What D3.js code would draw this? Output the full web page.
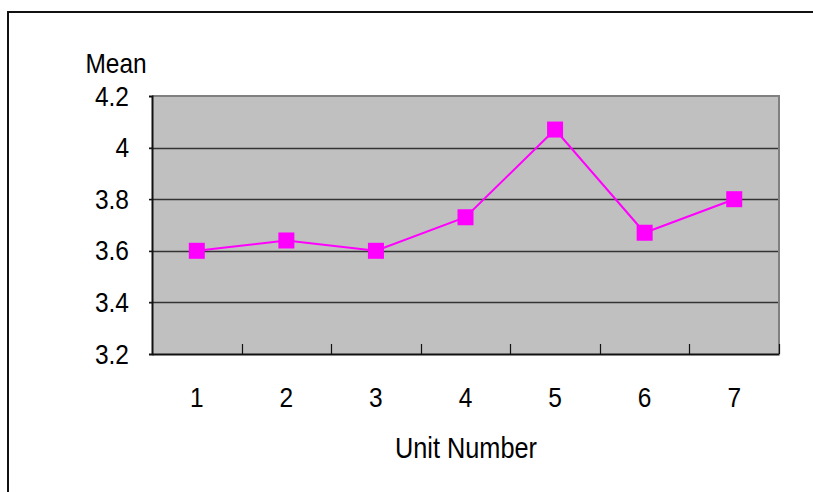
<!DOCTYPE html>
<html><head><meta charset="utf-8">
<script src="https://cdn.jsdelivr.net/npm/d3@7"></script>
<style>body{margin:0;background:#fff}svg{display:block}text{font-family:"Liberation Sans",Arial,sans-serif;fill:#000}</style>
</head><body><svg id="c" width="813" height="492"></svg>
<script>
const categories = ["1","2","3","4","5","6","7"];
const meanValues = [3.60, 3.64, 3.60, 3.73, 4.07, 3.67, 3.80];
const yTicks = [3.2, 3.4, 3.6, 3.8, 4.0, 4.2];
const yTickLabels = ["3.2","3.4","3.6","3.8","4","4.2"];
const yTitle = "Mean";
const xTitle = "Unit Number";

const svg = d3.select("#c");
const L = 152, T = 96, R = 779, B = 354;
const SY = 1.16;

// outer frame
svg.append("rect").attr("x",8).attr("y",12).attr("width",900).attr("height",600)
  .attr("fill","none").attr("stroke","#111").attr("stroke-width",2);

const x = d3.scaleBand().domain(categories).range([L,R]).padding(0);
const y = d3.scaleLinear().domain([3.2,4.2]).range([B,T]);

svg.append("rect").attr("x",L).attr("y",T).attr("width",R-L).attr("height",B-T).attr("fill","#C0C0C0");

// gridlines
svg.append("g").selectAll("line").data(yTicks.filter(v=>v>3.2 && v<4.2)).join("line")
  .attr("x1",L-3).attr("x2",R).attr("y1",d=>Math.round(y(d))+0.5).attr("y2",d=>Math.round(y(d))+0.5)
  .attr("stroke","#333").attr("stroke-width",1.3);

// gray border top & right
svg.append("path").attr("d",`M${L},${T} H${R} V${B}`).attr("fill","none").attr("stroke","#808080").attr("stroke-width",2);

// y axis
const yAxis = svg.append("g").attr("transform",`translate(${L},0)`)
  .call(d3.axisLeft(y).tickValues(yTicks).tickSize(3).tickFormat((d,i)=>yTickLabels[i]));
yAxis.select(".domain").attr("stroke","#111").attr("stroke-width",2);
yAxis.selectAll(".tick line").attr("stroke","#111");
yAxis.selectAll(".tick text").remove();
svg.append("g").selectAll("text").data(yTicks).join("text")
  .attr("text-anchor","end").attr("font-size",24.5)
  .attr("transform",(d)=>`translate(129,${y(d)+9.5}) scale(1,${SY})`)
  .text((d,i)=>yTickLabels[i]);

// x axis
const xAxis = svg.append("g").attr("transform",`translate(0,${B})`)
  .call(d3.axisBottom(x).tickSize(0).tickFormat(""));
xAxis.select(".domain").attr("stroke","#111").attr("stroke-width",2);
svg.append("g").selectAll("line").data(categories.slice(1).concat(["end"])).join("line")
  .attr("x1",(d,i)=>Math.round(L+x.bandwidth()*(i+1))+0.5).attr("x2",(d,i)=>Math.round(L+x.bandwidth()*(i+1))+0.5)
  .attr("y1",B).attr("y2",B-10).attr("stroke","#111").attr("stroke-width",1.2);
svg.append("g").selectAll("text").data(categories).join("text")
  .attr("text-anchor","middle").attr("font-size",24.5)
  .attr("transform",d=>`translate(${x(d)+x.bandwidth()/2},${407}) scale(1,${SY})`)
  .text(d=>d);

// titles
svg.append("text").attr("text-anchor","middle").attr("font-size",24.5)
  .attr("transform",`translate(116,73) scale(1,${SY})`).text(yTitle);
svg.append("text").attr("text-anchor","middle").attr("font-size",25.3)
  .attr("transform",`translate(466,458) scale(1,${SY})`).text(xTitle);

// line + markers
const cx = d=>x(d)+x.bandwidth()/2;
svg.append("path").datum(meanValues)
  .attr("d",d3.line().x((d,i)=>cx(categories[i])).y(d=>y(d)))
  .attr("fill","none").attr("stroke","#FF00FF").attr("stroke-width",2);
svg.append("g").selectAll("rect").data(meanValues).join("rect")
  .attr("x",(d,i)=>cx(categories[i])-8).attr("y",d=>y(d)-8)
  .attr("width",16).attr("height",16).attr("fill","#FF00FF");
</script></body></html>
